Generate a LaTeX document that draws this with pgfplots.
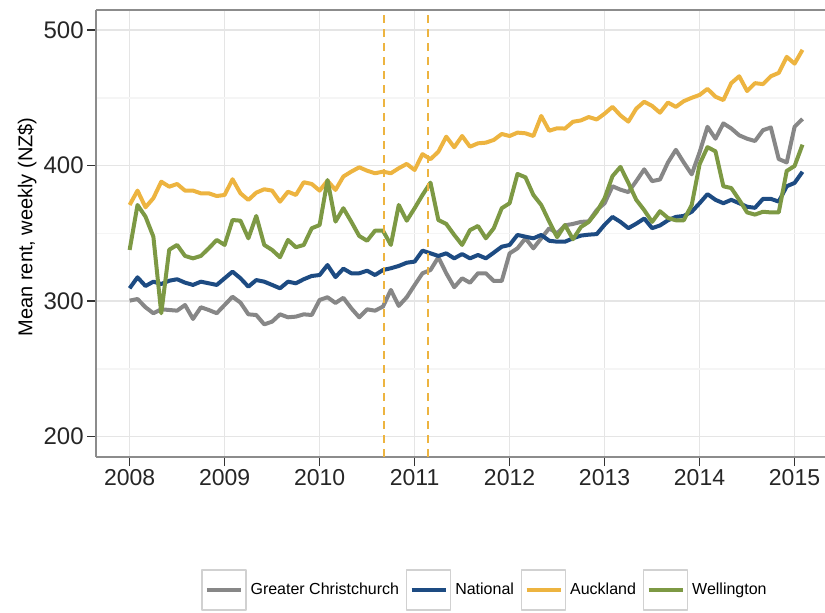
\documentclass[border=0pt]{standalone}
\usepackage{pgfplots}
\pgfplotsset{compat=1.18}
\usepackage{pgfplotstable}
\usepackage{fontspec}
\setmainfont{Liberation Sans}

\definecolor{chch}{HTML}{878787}
\definecolor{natl}{HTML}{1D4B82}
\definecolor{akl}{HTML}{EDB440}
\definecolor{wgtn}{HTML}{7D9944}

% monthly mean weekly rent, Jan 2008 - Feb 2015
\pgfplotstableread{
t        chch   natl   akl    wgtn
2008.000 300.4  309.5  371.0  337.8
2008.083 301.6  317.6  381.6  371.0
2008.167 295.5  311.2  369.3  362.4
2008.250 291.1  314.4  376.0  347.6
2008.333 294.0  312.7  388.2  291.1
2008.417 293.5  315.1  384.5  338.0
2008.500 293.0  316.2  386.5  341.5
2008.583 297.2  313.7  381.6  333.4
2008.667 286.9  312.0  381.6  331.6
2008.750 295.5  314.4  379.6  333.4
2008.833 293.5  313.2  379.6  339.0
2008.917 291.1  312.0  377.6  345.2
2009.000 297.2  316.9  378.4  341.5
2009.083 303.3  321.8  390.0  359.9
2009.167 298.9  316.9  379.6  359.4
2009.250 290.3  310.7  374.7  346.4
2009.333 289.8  315.6  380.1  362.9
2009.417 282.9  314.4  382.6  341.5
2009.500 284.9  312.0  381.6  337.8
2009.583 290.3  309.5  373.4  332.4
2009.667 288.1  314.4  380.8  345.2
2009.750 288.6  313.2  378.4  339.8
2009.833 290.3  316.2  387.8  341.5
2009.917 289.8  318.6  386.5  353.8
2010.000 300.9  319.3  381.6  356.2
2010.083 302.9  326.7  388.9  389.4
2010.167 298.7  317.8  382.1  358.7
2010.250 302.5  324.0  392.0  368.6
2010.333 294.8  320.6  395.6  358.7
2010.417 288.1  320.6  398.8  348.1
2010.500 294.0  322.5  396.3  344.6
2010.583 293.0  319.3  394.4  352.0
2010.667 296.0  323.0  395.6  352.0
2010.750 308.3  324.3  394.4  341.5
2010.833 296.5  326.0  398.1  371.0
2010.917 302.9  328.4  401.3  359.4
2011.000 311.9  329.2  396.8  368.6
2011.083 320.6  337.3  408.5  378.4
2011.167 323.0  335.3  404.8  387.5
2011.250 332.4  333.4  410.3  359.9
2011.333 320.6  335.3  421.4  357.0
2011.417 310.3  331.6  413.6  348.9
2011.500 316.9  334.8  421.9  341.5
2011.583 313.6  331.6  414.0  352.5
2011.667 320.6  334.1  416.5  355.5
2011.750 320.6  331.6  417.0  346.4
2011.833 314.9  335.8  419.0  353.8
2011.917 314.9  340.2  423.4  368.6
2012.000 335.3  341.5  421.9  372.3
2012.083 339.0  348.9  424.4  393.9
2012.167 346.4  347.6  423.9  391.4
2012.250 339.0  346.4  421.9  378.4
2012.333 346.4  348.9  436.7  371.0
2012.417 353.8  344.6  425.8  358.7
2012.500 350.0  343.9  427.6  347.2
2012.583 356.0  343.9  427.4  356.2
2012.667 357.0  346.4  432.4  345.7
2012.750 358.5  348.4  433.4  354.7
2012.833 358.9  349.1  435.9  358.5
2012.917 367.2  349.5  434.1  366.0
2013.000 372.3  356.4  438.4  376.0
2013.083 384.8  362.2  443.4  392.3
2013.167 382.3  358.5  437.1  399.1
2013.250 380.5  353.9  432.5  387.3
2013.333 388.6  357.2  442.1  374.8
2013.417 397.3  361.0  447.2  367.2
2013.500 388.6  353.9  444.1  358.5
2013.583 389.8  355.9  439.1  366.4
2013.667 402.4  359.7  446.6  361.4
2013.750 411.7  362.2  443.4  359.7
2013.833 402.4  362.9  447.6  359.7
2013.917 393.6  366.0  450.1  371.0
2014.000 409.9  372.3  452.2  401.1
2014.083 428.7  379.0  456.7  413.7
2014.167 419.9  374.8  450.9  410.6
2014.250 431.2  372.3  448.4  384.8
2014.333 427.5  374.8  460.9  383.5
2014.417 422.4  372.3  466.0  374.8
2014.500 419.9  369.7  455.1  365.5
2014.583 418.2  368.9  460.9  363.9
2014.667 426.2  375.5  460.2  366.0
2014.750 428.2  375.5  466.0  365.5
2014.833 404.9  373.5  468.5  365.5
2014.917 402.4  384.8  480.3  396.1
2015.000 428.7  387.3  475.3  399.8
2015.083 434.5  395.5  485.5  415.5
}\rents

\begin{document}
\begin{tikzpicture}
\begin{axis}[
    at={(0,0)}, anchor=south west,
    scale only axis, width=364.5pt, height=223.5pt,
    xmin=2007.646, xmax=2015.32, ymin=185, ymax=514.9,
    axis x line*=bottom, axis y line*=left,
    axis line style={black!45, line width=0.8pt},
    clip mode=individual,
    tick align=outside, major tick length=4.5pt,
    tick style={black!80, line width=0.8pt},
    xtick={2008,...,2015}, ytick={200,300,400,500},
    minor x tick num=1, minor y tick num=1, minor tick length=0pt,
    grid=both,
    major grid style={black!10, line width=0.8pt},
    minor grid style={black!4, line width=0.6pt},
    /pgf/number format/assume math mode=true,
    xticklabel style={/pgf/number format/1000 sep={}, font=\fontsize{11.5}{12}\selectfont, text=black!85, inner sep=1.5pt},
    yticklabel style={font=\fontsize{12}{13}\selectfont, text=black!85, inner sep=1.5pt},
    ylabel={Mean rent, weekly (NZ\$)},
    ylabel style={at={(axis description cs:-0.0947,0.515)}, anchor=center, font=\fontsize{10}{12}\selectfont},
    legend columns=-1,
    legend style={at={(axis description cs:0.5336,-0.2975)}, anchor=center,
        draw=none, fill=none, font=\fontsize{8}{9}\selectfont,
        /tikz/every odd column/.append style={column sep=1pt},
        /tikz/every even column/.append style={column sep=2.5pt},
        nodes={inner sep=1pt}},
    legend image code/.code={
        \draw[draw=black!18, line width=0.6pt, solid, fill=white] (-2pt,-10pt) rectangle (20pt,10pt);
        \draw (0.5pt,0pt) -- (17.5pt,0pt);
    },
    every axis plot/.append style={line width=2pt, line join=round},
]
\addplot[chch] table[x=t, y=chch] {\rents};
\addplot[natl] table[x=t, y=natl] {\rents};
\addplot[akl] table[x=t, y=akl] {\rents};
\addplot[wgtn] table[x=t, y=wgtn] {\rents};
\legend{Greater Christchurch, National, Auckland, Wellington}

% earthquake dates
\addplot[akl, line width=1pt, dash pattern=on 4pt off 3pt, forget plot] coordinates {(2010.675,185) (2010.675,514.9)};
\addplot[akl, line width=1pt, dash pattern=on 4pt off 3pt, forget plot] coordinates {(2011.143,185) (2011.143,514.9)};

\draw[black!45, line width=0.8pt] (rel axis cs:0,1) -- (rel axis cs:1,1);
\end{axis}
\pgfresetboundingbox
\useasboundingbox (-48pt,-77.5pt) rectangle (364.5pt,228.5pt);
\end{tikzpicture}
\end{document}
